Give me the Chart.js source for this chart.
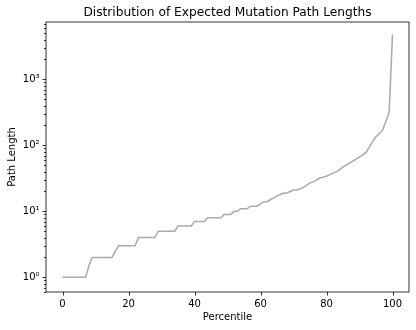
<!DOCTYPE html>
<html>
<head>
<meta charset="utf-8">
<script src="https://cdn.jsdelivr.net/npm/chart.js@4/dist/chart.umd.min.js"></script>
<style>
  html, body { margin: 0; padding: 0; background: #fff; }
  #wrap { width: 416px; height: 330px; }
</style>
</head>
<body>
<div id="wrap"><canvas id="ipath_len" width="416" height="330"></canvas></div>
<script>
// Percentile positions (x) and the path length at each (y)
const percentiles = [
    0, 1, 2, 3, 4, 5, 6, 7, 8, 9, 10, 11, 12, 13, 14, 15, 16, 17, 18, 19,
    20, 21, 22, 23, 24, 25, 26, 27, 28, 29, 30, 31, 32, 33, 34, 35, 36, 37, 38, 39,
    40, 41, 42, 43, 44, 45, 46, 47, 48, 49, 50, 51, 52, 53, 54, 55, 56, 57, 58, 59,
    60, 61, 62, 63, 64, 65, 66, 67, 68, 69, 70, 71, 72, 73, 74, 75, 76, 77, 78, 79,
    80, 81, 82, 83, 84, 85, 86, 87, 88, 89, 90, 91, 92, 93, 94, 95, 96, 97, 98, 99, 100
];
const pathLengths = [
    1, 1, 1, 1, 1, 1, 1, 1, 1.5, 2, 2, 2, 2, 2, 2, 2, 2.5, 3, 3, 3,
    3, 3, 3, 4, 4, 4, 4, 4, 4, 5, 5, 5, 5, 5, 5, 6, 6, 6, 6, 6,
    7, 7, 7, 7, 8, 8, 8, 8, 8, 9, 9, 9, 10, 10, 11, 11, 11, 12, 12, 12,
    13, 14, 14, 15, 16, 17, 18, 19, 19, 20, 21, 21, 22, 23, 25, 27, 28, 30, 32, 33,
    34, 36, 38, 40, 43, 47, 50, 54, 58, 62, 67, 72, 78, 95, 115, 135, 150, 170, 230, 320, 4800
];
const xTickValues = [0, 20, 40, 60, 80, 100];
const yDecades = [1, 10, 100, 1000];
const yDecadeLabels = ["10\u2070", "10\u00b9", "10\u00b2", "10\u00b3"];

const chartTitle = "Distribution of Expected Mutation Path Lengths";
const FONT = "'DejaVu Sans', sans-serif";

//Points for the line
const points = percentiles.map((p, i) => ({ x: p, y: pathLengths[i] }));

//Tick marks + frame drawn like matplotlib (major/minor ticks have different lengths)
const frameTicks = {
    id: "frameTicks",
    afterDraw(chart) {
        const { ctx, chartArea: a, scales } = chart;
        ctx.save();
        ctx.strokeStyle = "#000";
        ctx.lineWidth = 0.8;
        ctx.strokeRect(a.left, a.top, a.right - a.left, a.bottom - a.top);

        ctx.beginPath();
        scales.x.ticks.forEach(t => {
            const px = Math.round(scales.x.getPixelForValue(t.value)) + 0.5;
            ctx.moveTo(px, a.bottom);
            ctx.lineTo(px, a.bottom + 3.5);
        });
        scales.y.ticks.forEach(t => {
            const py = Math.round(scales.y.getPixelForValue(t.value)) + 0.5;
            const major = yDecades.includes(t.value);
            ctx.moveTo(a.left, py);
            ctx.lineTo(a.left - (major ? 3.5 : 2), py);
        });
        ctx.stroke();

        //Title centred over the plot area
        ctx.fillStyle = "#000";
        ctx.font = "12.2px " + FONT;
        ctx.textAlign = "center";
        ctx.textBaseline = "middle";
        ctx.fillText(chartTitle, (a.left + a.right) / 2, 12.5);
        ctx.restore();
    }
};

new Chart("ipath_len", {
    type: "line",
    data: {
        datasets: [{
            data: points,
            borderColor: "#a9a9a9",
            borderWidth: 1.5,
            pointRadius: 0,
            tension: 0,
            fill: false
        }]
    },
    options: {
        responsive: false,
        animation: false,
        devicePixelRatio: 1,
        layout: { padding: { left: 0, right: 7, top: 22, bottom: 0 } },
        plugins: {
            legend: { display: false },
            title: { display: false },
            tooltip: { enabled: false }
        },
        scales: {
            x: {
                type: "linear",
                min: -5,
                max: 105,
                afterBuildTicks: s => { s.ticks = xTickValues.map(v => ({ value: v })); },
                afterFit: s => { s.height = 38; },
                grid: { display: false, drawTicks: true, tickLength: 3.5 },
                border: { display: false },
                ticks: {
                    color: "#000",
                    font: { family: FONT, size: 10 },
                    padding: 3,
                    maxRotation: 0,
                    autoSkip: false
                },
                title: {
                    display: true,
                    text: "Percentile",
                    color: "#000",
                    font: { family: FONT, size: 10 },
                    padding: { top: 0, bottom: 6.5 }
                }
            },
            y: {
                type: "logarithmic",
                min: 0.64,
                max: 7400,
                afterBuildTicks: s => {
                    const t = [];
                    for (let d = 0.1; d <= 1000; d *= 10) {
                        for (let m = 1; m <= 9; m++) {
                            const v = +(m * d).toPrecision(3);
                            if (v >= s.min && v <= s.max) t.push({ value: v });
                        }
                    }
                    s.ticks = t;
                },
                afterFit: s => { s.width = 46; },
                grid: { display: false, drawTicks: true, tickLength: 3.5 },
                border: { display: false },
                ticks: {
                    color: "#000",
                    font: { family: FONT, size: 10 },
                    padding: 3,
                    autoSkip: false,
                    callback: v => {
                        const i = yDecades.indexOf(v);
                        return i >= 0 ? yDecadeLabels[i] : "";
                    }
                },
                title: {
                    display: true,
                    text: "Path Length",
                    color: "#000",
                    font: { family: FONT, size: 10 },
                    padding: { top: 6.5, bottom: 0 }
                }
            }
        }
    },
    plugins: [frameTicks]
});
</script>
</body>
</html>
